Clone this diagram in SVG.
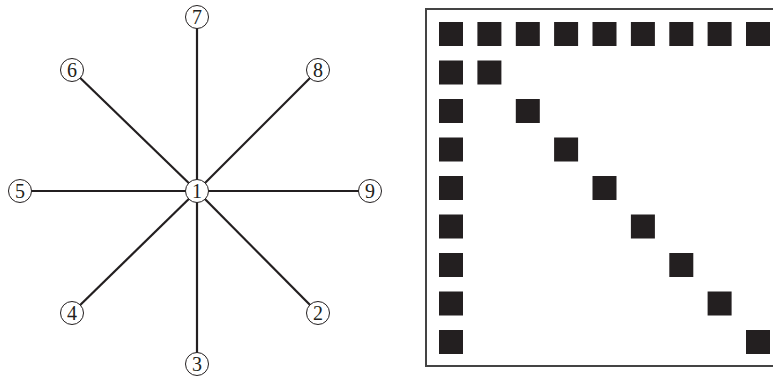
<svg xmlns="http://www.w3.org/2000/svg" width="773" height="381" viewBox="0 0 773 381">
<style>
.e{stroke:#231f20;stroke-width:2.2;fill:none}
.n circle{fill:#fff;stroke:#231f20;stroke-width:1}
.n text{font-family:"Liberation Serif","Times New Roman",serif;font-size:20px;fill:#231f20;text-anchor:middle}
.s{fill:#231f20}
</style>
<rect width="773" height="381" fill="#fff"/>
<g id="connectors">
<line class="e" x1="197" y1="191" x2="197" y2="17"/>
<line class="e" x1="197" y1="191" x2="197" y2="364"/>
<line class="e" x1="197" y1="191" x2="20" y2="191"/>
<line class="e" x1="197" y1="191" x2="370" y2="191"/>
<line class="e" x1="197" y1="191" x2="72" y2="70"/>
<line class="e" x1="197" y1="191" x2="318" y2="70"/>
<line class="e" x1="197" y1="191" x2="72" y2="313"/>
<line class="e" x1="197" y1="191" x2="318" y2="313"/>
</g>
<g id="n1" class="n"><circle cx="197" cy="191" r="11.5"/><text x="197" y="198">1</text></g>
<g id="n2" class="n"><circle cx="318" cy="313" r="11.5"/><text x="318" y="320">2</text></g>
<g id="n3" class="n"><circle cx="197" cy="364" r="11.5"/><text x="197" y="371">3</text></g>
<g id="n4" class="n"><circle cx="72" cy="313" r="11.5"/><text x="72" y="320">4</text></g>
<g id="n5" class="n"><circle cx="20" cy="191" r="11.5"/><text x="20" y="198">5</text></g>
<g id="n6" class="n"><circle cx="72" cy="70" r="11.5"/><text x="72" y="77">6</text></g>
<g id="n7" class="n"><circle cx="197" cy="17" r="11.5"/><text x="197" y="24">7</text></g>
<g id="n8" class="n"><circle cx="318" cy="70" r="11.5"/><text x="318" y="77">8</text></g>
<g id="n9" class="n"><circle cx="370" cy="191" r="11.5"/><text x="370" y="198">9</text></g>
<g id="matrix">
<rect x="426" y="9" width="360" height="357" fill="none" stroke="#444" stroke-width="2"/>
<rect class="s" x="439" y="22" width="24" height="24"/>
<rect class="s" x="477.4" y="22" width="24" height="24"/>
<rect class="s" x="515.8" y="22" width="24" height="24"/>
<rect class="s" x="554.1" y="22" width="24" height="24"/>
<rect class="s" x="592.5" y="22" width="24" height="24"/>
<rect class="s" x="630.9" y="22" width="24" height="24"/>
<rect class="s" x="669.3" y="22" width="24" height="24"/>
<rect class="s" x="707.6" y="22" width="24" height="24"/>
<rect class="s" x="746" y="22" width="24" height="24"/>
<rect class="s" x="439" y="60.5" width="24" height="24"/>
<rect class="s" x="477.4" y="60.5" width="24" height="24"/>
<rect class="s" x="439" y="99" width="24" height="24"/>
<rect class="s" x="515.8" y="99" width="24" height="24"/>
<rect class="s" x="439" y="137.5" width="24" height="24"/>
<rect class="s" x="554.1" y="137.5" width="24" height="24"/>
<rect class="s" x="439" y="176" width="24" height="24"/>
<rect class="s" x="592.5" y="176" width="24" height="24"/>
<rect class="s" x="439" y="214.5" width="24" height="24"/>
<rect class="s" x="630.9" y="214.5" width="24" height="24"/>
<rect class="s" x="439" y="253" width="24" height="24"/>
<rect class="s" x="669.3" y="253" width="24" height="24"/>
<rect class="s" x="439" y="291.5" width="24" height="24"/>
<rect class="s" x="707.6" y="291.5" width="24" height="24"/>
<rect class="s" x="439" y="330" width="24" height="24"/>
<rect class="s" x="746" y="330" width="24" height="24"/>
</g>
</svg>
